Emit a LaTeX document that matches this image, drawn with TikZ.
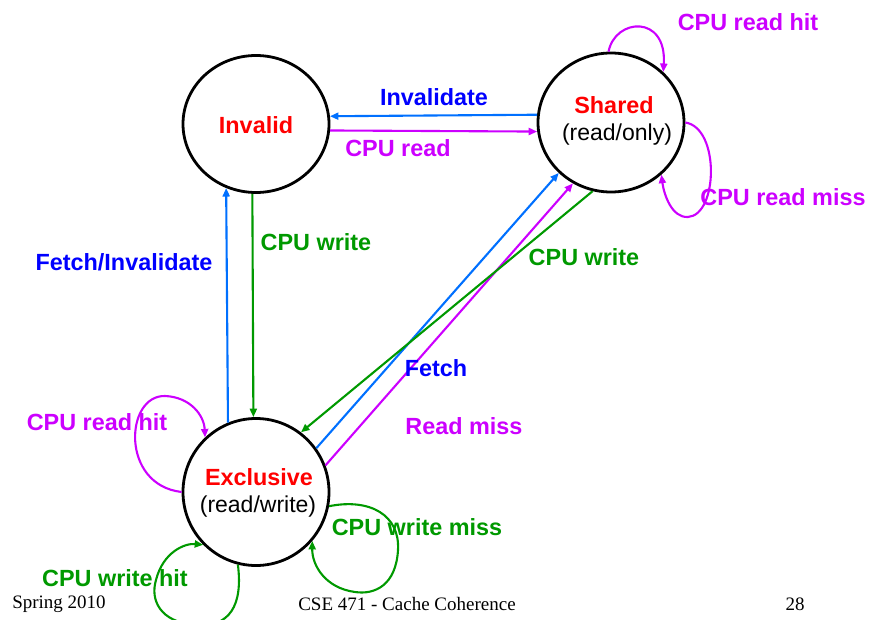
\documentclass[tikz,border=0pt]{standalone}
\usepackage{fontspec}
\setmainfont{Liberation Sans}
\newfontfamily\footfont{Liberation Serif}
\usetikzlibrary{shapes.geometric,arrows.meta}
\definecolor{lblue}{RGB}{0,0,255}
\definecolor{ablue}{RGB}{0,112,255}
\definecolor{mag}{RGB}{204,0,255}
\definecolor{grn}{RGB}{0,153,0}
\definecolor{sred}{RGB}{255,0,0}
\begin{document}
\begin{tikzpicture}[x=1pt,y=-1pt,
  state/.style={draw=black,line width=2.8pt,ellipse,inner sep=0pt,
                minimum width=146pt,minimum height=137pt},
  lab/.style={font=\fontsize{23.4}{26}\selectfont\bfseries,inner sep=0pt},
  sub/.style={font=\fontsize{23}{26}\selectfont,inner sep=0pt},
  foot/.style={font=\fontsize{19}{22}\selectfont\footfont,inner sep=0pt},
  tr/.style={line width=2.1pt,-{Triangle[length=8.5pt,width=7pt]}},
]
\useasboundingbox (0,0) rectangle (872,620);

% states
\node[state] (inv) at (256,124) {};
\node[state,minimum height=139pt] (sh) at (611,122.5) {};
\node[state,minimum height=147pt] (ex) at (256,492) {};

\node[lab,text=sred] (invt) at (256,125) {Invalid};
\node[lab,text=sred] (sht) at (614,105) {Shared};
\node[sub] (shs) at (617,135) {(read/only)};
\node[lab,text=sred] (ext) at (259,477) {Exclusive};
\node[sub] (exs) at (258,507) {(read/write)};

% transitions between Invalid and Shared
\draw[tr,ablue] (sh.174.6) -- (inv.6.9);
\draw[tr,mag] (inv.-5.4) -- (sh.187);

% transitions between Invalid and Exclusive
\draw[tr,ablue] (ex.112.8) -- (inv.245.5);
\draw[tr,grn] (inv.267.5) -- (ex.92.3);

% transitions between Exclusive and Shared
\draw[tr,ablue] (ex.36.3) -- (sh.224.4);
\draw[tr,mag] (ex.21.5) -- (sh.238.9);
\draw[tr,grn] (sh.255.2) -- (ex.53.1);

% self loops on Shared
\draw[tr,mag] (sh.92) .. controls (615,18) and (667,14) .. (sh.44.5);
\draw[tr,mag] (sh.0) .. controls (720,128) and (718,215) .. (688,217)
  .. controls (672,218) and (664,195) .. (sh.314.5);

% self loops on Exclusive
\draw[tr,mag] (ex.180) .. controls (120,485) and (125,395) .. (165,396)
  .. controls (190,397) and (204,415) .. (ex.133);
\draw[tr,grn] (ex.256) .. controls (243,605) and (230,628) .. (195,625)
  .. controls (160,622) and (150,600) .. (156,580)
  .. controls (163,552) and (185,543) .. (ex.225.5);
\draw[tr,grn] (ex.-11) .. controls (370,498) and (400,515) .. (398,550)
  .. controls (396,585) and (375,595) .. (355,592)
  .. controls (325,588) and (312,565) .. (ex.-41.4);

% transition labels
\node[lab,text=lblue] (l1) at (434,97) {Invalidate};
\node[lab,text=mag] (l2) at (398,148) {CPU read};
\node[lab,text=lblue] (l3) at (124,262) {Fetch/Invalidate};
\node[lab,text=grn] (l4) at (316,242) {CPU write};
\node[lab,text=grn] (l5) at (584,257) {CPU write};
\node[lab,text=lblue] (l6) at (436,368) {Fetch};
\node[lab,text=mag] (l7) at (464,426) {Read miss};
\node[lab,text=mag] (l8) at (748,22) {CPU read hit};
\node[lab,text=mag] (l9) at (783,197) {CPU read miss};
\node[lab,text=mag] (l10) at (97,422) {CPU read hit};
\node[lab,text=grn] (l11) at (417,527) {CPU write miss};
\node[lab,text=grn] (l12) at (115,578) {CPU write hit};

% footer
\node[foot] (f1) at (59,604) {Spring 2010};
\node[foot] (f2) at (407,604) {CSE 471 - Cache Coherence};
\node[foot] (f3) at (795,604) {28};
\end{tikzpicture}
\end{document}
